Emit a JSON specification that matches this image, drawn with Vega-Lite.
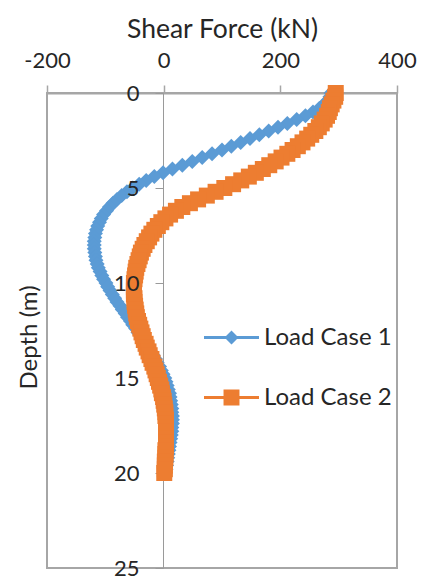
{
  "$schema": "https://vega.github.io/schema/vega-lite/v6.json",
  "width": 350,
  "height": 475,
  "autosize": {"type": "none"},
  "padding": {"left": 47, "top": 93, "right": 33, "bottom": 13},
  "background": "white",
  "config": {
    "font": "Lato",
    "view": {"stroke": "#a6a6a6", "strokeWidth": 2},
    "axis": {"grid": false, "labelFlush": false, "labelOverlap": false, "titleFontWeight": "normal"}
  },
  "data": {
    "values": [
      {"series": "Load Case 1", "depth": 0, "force": 287},
      {"series": "Load Case 1", "depth": 0.2, "force": 285},
      {"series": "Load Case 1", "depth": 0.4, "force": 281},
      {"series": "Load Case 1", "depth": 0.6, "force": 275},
      {"series": "Load Case 1", "depth": 0.8, "force": 267},
      {"series": "Load Case 1", "depth": 1.0, "force": 256},
      {"series": "Load Case 1", "depth": 1.2, "force": 243},
      {"series": "Load Case 1", "depth": 1.4, "force": 228},
      {"series": "Load Case 1", "depth": 1.6, "force": 212},
      {"series": "Load Case 1", "depth": 1.8, "force": 196},
      {"series": "Load Case 1", "depth": 2.0, "force": 180},
      {"series": "Load Case 1", "depth": 2.2, "force": 164},
      {"series": "Load Case 1", "depth": 2.4, "force": 148},
      {"series": "Load Case 1", "depth": 2.6, "force": 132},
      {"series": "Load Case 1", "depth": 2.8, "force": 116},
      {"series": "Load Case 1", "depth": 3.0, "force": 100},
      {"series": "Load Case 1", "depth": 3.2, "force": 83},
      {"series": "Load Case 1", "depth": 3.4, "force": 66},
      {"series": "Load Case 1", "depth": 3.6, "force": 49},
      {"series": "Load Case 1", "depth": 3.8, "force": 32},
      {"series": "Load Case 1", "depth": 4.0, "force": 15},
      {"series": "Load Case 1", "depth": 4.2, "force": -1},
      {"series": "Load Case 1", "depth": 4.4, "force": -16},
      {"series": "Load Case 1", "depth": 4.6, "force": -30},
      {"series": "Load Case 1", "depth": 4.8, "force": -42},
      {"series": "Load Case 1", "depth": 5.0, "force": -53},
      {"series": "Load Case 1", "depth": 5.2, "force": -63},
      {"series": "Load Case 1", "depth": 5.4, "force": -72},
      {"series": "Load Case 1", "depth": 5.6, "force": -80},
      {"series": "Load Case 1", "depth": 5.8, "force": -87},
      {"series": "Load Case 1", "depth": 6.0, "force": -93},
      {"series": "Load Case 1", "depth": 6.2, "force": -98},
      {"series": "Load Case 1", "depth": 6.4, "force": -103},
      {"series": "Load Case 1", "depth": 6.6, "force": -107},
      {"series": "Load Case 1", "depth": 6.8, "force": -110},
      {"series": "Load Case 1", "depth": 7.0, "force": -113},
      {"series": "Load Case 1", "depth": 7.2, "force": -115},
      {"series": "Load Case 1", "depth": 7.4, "force": -117},
      {"series": "Load Case 1", "depth": 7.6, "force": -118},
      {"series": "Load Case 1", "depth": 7.8, "force": -119},
      {"series": "Load Case 1", "depth": 8.0, "force": -119},
      {"series": "Load Case 1", "depth": 8.2, "force": -119},
      {"series": "Load Case 1", "depth": 8.4, "force": -118},
      {"series": "Load Case 1", "depth": 8.6, "force": -117},
      {"series": "Load Case 1", "depth": 8.8, "force": -116},
      {"series": "Load Case 1", "depth": 9.0, "force": -114},
      {"series": "Load Case 1", "depth": 9.2, "force": -112},
      {"series": "Load Case 1", "depth": 9.4, "force": -109},
      {"series": "Load Case 1", "depth": 9.6, "force": -106},
      {"series": "Load Case 1", "depth": 9.8, "force": -103},
      {"series": "Load Case 1", "depth": 10.0, "force": -99},
      {"series": "Load Case 1", "depth": 10.2, "force": -96},
      {"series": "Load Case 1", "depth": 10.4, "force": -92},
      {"series": "Load Case 1", "depth": 10.6, "force": -88},
      {"series": "Load Case 1", "depth": 10.8, "force": -84},
      {"series": "Load Case 1", "depth": 11.0, "force": -80},
      {"series": "Load Case 1", "depth": 11.2, "force": -75},
      {"series": "Load Case 1", "depth": 11.4, "force": -71},
      {"series": "Load Case 1", "depth": 11.6, "force": -66},
      {"series": "Load Case 1", "depth": 11.8, "force": -62},
      {"series": "Load Case 1", "depth": 12.0, "force": -57},
      {"series": "Load Case 1", "depth": 12.2, "force": -53},
      {"series": "Load Case 1", "depth": 12.4, "force": -48},
      {"series": "Load Case 1", "depth": 12.6, "force": -44},
      {"series": "Load Case 1", "depth": 12.8, "force": -39},
      {"series": "Load Case 1", "depth": 13.0, "force": -35},
      {"series": "Load Case 1", "depth": 13.2, "force": -30},
      {"series": "Load Case 1", "depth": 13.4, "force": -26},
      {"series": "Load Case 1", "depth": 13.6, "force": -22},
      {"series": "Load Case 1", "depth": 13.8, "force": -18},
      {"series": "Load Case 1", "depth": 14.0, "force": -14},
      {"series": "Load Case 1", "depth": 14.2, "force": -11},
      {"series": "Load Case 1", "depth": 14.4, "force": -7},
      {"series": "Load Case 1", "depth": 14.6, "force": -4},
      {"series": "Load Case 1", "depth": 14.8, "force": -1},
      {"series": "Load Case 1", "depth": 15.0, "force": 2},
      {"series": "Load Case 1", "depth": 15.2, "force": 4},
      {"series": "Load Case 1", "depth": 15.4, "force": 6},
      {"series": "Load Case 1", "depth": 15.6, "force": 8},
      {"series": "Load Case 1", "depth": 15.8, "force": 10},
      {"series": "Load Case 1", "depth": 16.0, "force": 11},
      {"series": "Load Case 1", "depth": 16.2, "force": 12},
      {"series": "Load Case 1", "depth": 16.4, "force": 13},
      {"series": "Load Case 1", "depth": 16.6, "force": 14},
      {"series": "Load Case 1", "depth": 16.8, "force": 14},
      {"series": "Load Case 1", "depth": 17.0, "force": 15},
      {"series": "Load Case 1", "depth": 17.2, "force": 15},
      {"series": "Load Case 1", "depth": 17.4, "force": 15},
      {"series": "Load Case 1", "depth": 17.6, "force": 14},
      {"series": "Load Case 1", "depth": 17.8, "force": 14},
      {"series": "Load Case 1", "depth": 18.0, "force": 13},
      {"series": "Load Case 1", "depth": 18.2, "force": 12},
      {"series": "Load Case 1", "depth": 18.4, "force": 11},
      {"series": "Load Case 1", "depth": 18.6, "force": 10},
      {"series": "Load Case 1", "depth": 18.8, "force": 9},
      {"series": "Load Case 1", "depth": 19.0, "force": 8},
      {"series": "Load Case 1", "depth": 19.2, "force": 7},
      {"series": "Load Case 1", "depth": 19.4, "force": 6},
      {"series": "Load Case 1", "depth": 19.6, "force": 5},
      {"series": "Load Case 1", "depth": 19.8, "force": 4},
      {"series": "Load Case 1", "depth": 20.0, "force": 3},
      {"series": "Load Case 2", "depth": 0, "force": 295},
      {"series": "Load Case 2", "depth": 0.2, "force": 294},
      {"series": "Load Case 2", "depth": 0.4, "force": 291},
      {"series": "Load Case 2", "depth": 0.6, "force": 288},
      {"series": "Load Case 2", "depth": 0.8, "force": 285},
      {"series": "Load Case 2", "depth": 1.0, "force": 283},
      {"series": "Load Case 2", "depth": 1.2, "force": 280},
      {"series": "Load Case 2", "depth": 1.4, "force": 276},
      {"series": "Load Case 2", "depth": 1.6, "force": 271},
      {"series": "Load Case 2", "depth": 1.8, "force": 266},
      {"series": "Load Case 2", "depth": 2.0, "force": 260},
      {"series": "Load Case 2", "depth": 2.2, "force": 253},
      {"series": "Load Case 2", "depth": 2.4, "force": 246},
      {"series": "Load Case 2", "depth": 2.6, "force": 238},
      {"series": "Load Case 2", "depth": 2.8, "force": 230},
      {"series": "Load Case 2", "depth": 3.0, "force": 221},
      {"series": "Load Case 2", "depth": 3.2, "force": 212},
      {"series": "Load Case 2", "depth": 3.4, "force": 202},
      {"series": "Load Case 2", "depth": 3.6, "force": 192},
      {"series": "Load Case 2", "depth": 3.8, "force": 181},
      {"series": "Load Case 2", "depth": 4.0, "force": 170},
      {"series": "Load Case 2", "depth": 4.2, "force": 158},
      {"series": "Load Case 2", "depth": 4.4, "force": 146},
      {"series": "Load Case 2", "depth": 4.6, "force": 133},
      {"series": "Load Case 2", "depth": 4.8, "force": 119},
      {"series": "Load Case 2", "depth": 5.0, "force": 104},
      {"series": "Load Case 2", "depth": 5.2, "force": 89},
      {"series": "Load Case 2", "depth": 5.4, "force": 74},
      {"series": "Load Case 2", "depth": 5.6, "force": 59},
      {"series": "Load Case 2", "depth": 5.8, "force": 45},
      {"series": "Load Case 2", "depth": 6.0, "force": 32},
      {"series": "Load Case 2", "depth": 6.2, "force": 21},
      {"series": "Load Case 2", "depth": 6.4, "force": 11},
      {"series": "Load Case 2", "depth": 6.6, "force": 3},
      {"series": "Load Case 2", "depth": 6.8, "force": -4},
      {"series": "Load Case 2", "depth": 7.0, "force": -10},
      {"series": "Load Case 2", "depth": 7.2, "force": -16},
      {"series": "Load Case 2", "depth": 7.4, "force": -21},
      {"series": "Load Case 2", "depth": 7.6, "force": -25},
      {"series": "Load Case 2", "depth": 7.8, "force": -29},
      {"series": "Load Case 2", "depth": 8.0, "force": -33},
      {"series": "Load Case 2", "depth": 8.2, "force": -36},
      {"series": "Load Case 2", "depth": 8.4, "force": -39},
      {"series": "Load Case 2", "depth": 8.6, "force": -41},
      {"series": "Load Case 2", "depth": 8.8, "force": -43},
      {"series": "Load Case 2", "depth": 9.0, "force": -45},
      {"series": "Load Case 2", "depth": 9.2, "force": -47},
      {"series": "Load Case 2", "depth": 9.4, "force": -48},
      {"series": "Load Case 2", "depth": 9.6, "force": -49},
      {"series": "Load Case 2", "depth": 9.8, "force": -50},
      {"series": "Load Case 2", "depth": 10.0, "force": -51},
      {"series": "Load Case 2", "depth": 10.2, "force": -51},
      {"series": "Load Case 2", "depth": 10.4, "force": -51},
      {"series": "Load Case 2", "depth": 10.6, "force": -51},
      {"series": "Load Case 2", "depth": 10.8, "force": -50},
      {"series": "Load Case 2", "depth": 11.0, "force": -50},
      {"series": "Load Case 2", "depth": 11.2, "force": -49},
      {"series": "Load Case 2", "depth": 11.4, "force": -48},
      {"series": "Load Case 2", "depth": 11.6, "force": -47},
      {"series": "Load Case 2", "depth": 11.8, "force": -46},
      {"series": "Load Case 2", "depth": 12.0, "force": -44},
      {"series": "Load Case 2", "depth": 12.2, "force": -42},
      {"series": "Load Case 2", "depth": 12.4, "force": -40},
      {"series": "Load Case 2", "depth": 12.6, "force": -38},
      {"series": "Load Case 2", "depth": 12.8, "force": -36},
      {"series": "Load Case 2", "depth": 13.0, "force": -34},
      {"series": "Load Case 2", "depth": 13.2, "force": -31},
      {"series": "Load Case 2", "depth": 13.4, "force": -29},
      {"series": "Load Case 2", "depth": 13.6, "force": -26},
      {"series": "Load Case 2", "depth": 13.8, "force": -24},
      {"series": "Load Case 2", "depth": 14.0, "force": -21},
      {"series": "Load Case 2", "depth": 14.2, "force": -19},
      {"series": "Load Case 2", "depth": 14.4, "force": -16},
      {"series": "Load Case 2", "depth": 14.6, "force": -14},
      {"series": "Load Case 2", "depth": 14.8, "force": -12},
      {"series": "Load Case 2", "depth": 15.0, "force": -10},
      {"series": "Load Case 2", "depth": 15.2, "force": -8},
      {"series": "Load Case 2", "depth": 15.4, "force": -6},
      {"series": "Load Case 2", "depth": 15.6, "force": -4},
      {"series": "Load Case 2", "depth": 15.8, "force": -3},
      {"series": "Load Case 2", "depth": 16.0, "force": -1},
      {"series": "Load Case 2", "depth": 16.2, "force": 0},
      {"series": "Load Case 2", "depth": 16.4, "force": 1},
      {"series": "Load Case 2", "depth": 16.6, "force": 2},
      {"series": "Load Case 2", "depth": 16.8, "force": 3},
      {"series": "Load Case 2", "depth": 17.0, "force": 3},
      {"series": "Load Case 2", "depth": 17.2, "force": 4},
      {"series": "Load Case 2", "depth": 17.4, "force": 4},
      {"series": "Load Case 2", "depth": 17.6, "force": 4},
      {"series": "Load Case 2", "depth": 17.8, "force": 4},
      {"series": "Load Case 2", "depth": 18.0, "force": 4},
      {"series": "Load Case 2", "depth": 18.2, "force": 4},
      {"series": "Load Case 2", "depth": 18.4, "force": 4},
      {"series": "Load Case 2", "depth": 18.6, "force": 4},
      {"series": "Load Case 2", "depth": 18.8, "force": 3},
      {"series": "Load Case 2", "depth": 19.0, "force": 3},
      {"series": "Load Case 2", "depth": 19.2, "force": 3},
      {"series": "Load Case 2", "depth": 19.4, "force": 2},
      {"series": "Load Case 2", "depth": 19.6, "force": 2},
      {"series": "Load Case 2", "depth": 19.8, "force": 2},
      {"series": "Load Case 2", "depth": 20.0, "force": 1}
    ]
  },
  "layer": [
    {
      "transform": [{"filter": "datum.series === 'Load Case 1'"}],
      "mark": {"type": "point", "shape": "diamond", "size": 225, "filled": true, "opacity": 1, "strokeWidth": 0},
      "encoding": {
        "x": {
          "field": "force",
          "type": "quantitative",
          "scale": {"domain": [-200, 400], "nice": false, "zero": false},
          "axis": {
            "orient": "top",
            "values": [-200, 0, 200, 400],
            "labelExpr": "'' + datum.value",
            "title": "Shear Force (kN)",
            "titleFontSize": 26.5,
            "titleColor": "#262626",
            "titlePadding": 6,
            "labelFontSize": 22,
            "labelColor": "#262626",
            "labelPadding": 13,
            "domainColor": "#a6a6a6",
            "domainWidth": 2,
            "tickColor": "#a6a6a6",
            "tickWidth": 1.5,
            "tickSize": 8
          }
        },
        "y": {
          "field": "depth",
          "type": "quantitative",
          "scale": {"domain": [0, 25], "reverse": true, "nice": false, "zero": false},
          "axis": {
            "orient": "left",
            "offset": -116,
            "values": [0, 5, 10, 15, 20, 25],
            "labels": false,
            "zindex": 0,
            "title": "Depth (m)",
            "titleFontSize": 24,
            "titleColor": "#262626",
            "titleAngle": -90,
            "titleX": -134,
            "titleY": 244,
            "titleAlign": "center",
            "titleBaseline": "middle",
            "domainColor": "#9a9a9a",
            "domainWidth": 1,
            "tickColor": "#9a9a9a",
            "tickWidth": 1,
            "tickSize": 8
          }
        },
        "color": {
          "field": "series",
          "type": "nominal",
          "scale": {"domain": ["Load Case 1", "Load Case 2"], "range": ["#5b9bd5", "#ed7d31"]},
          "legend": {
            "orient": "none",
            "legendX": 157,
            "legendY": 217,
            "title": null,
            "padding": 0,
            "symbolSize": 3025,
            "symbolStrokeWidth": 0,
            "symbolOpacity": 1,
            "rowPadding": 20,
            "labelOffset": 5,
            "labelFontSize": 24,
            "labelColor": "#262626",
            "encode": {
              "symbols": {
                "update": {
                  "shape": {"signal": "datum.value === 'Load Case 1' ? 'M-1,-0.055L-0.2,-0.055L0,-0.255L0.2,-0.055L1,-0.055L1,0.055L0.2,0.055L0,0.255L-0.2,0.055L-1,0.055Z' : 'M-1,-0.055L-0.29,-0.055L-0.29,-0.29L0.29,-0.29L0.29,-0.055L1,-0.055L1,0.055L0.29,0.055L0.29,0.29L-0.29,0.29L-0.29,0.055L-1,0.055Z'"},
                  "size": {"value": 3025}
                }
              }
            }
          }
        }
      }
    },
    {
      "transform": [{"filter": "datum.series === 'Load Case 2'"}],
      "mark": {"type": "point", "shape": "square", "size": 256, "filled": true, "opacity": 1, "strokeWidth": 0},
      "encoding": {
        "x": {"field": "force", "type": "quantitative"},
        "y": {
          "field": "depth",
          "type": "quantitative",
          "axis": {
            "orient": "left",
            "offset": -116,
            "values": [0, 5, 10, 15, 20, 25],
            "zindex": 1,
            "domain": false,
            "tickColor": "transparent",
            "tickSize": 8,
            "title": null,
            "labelFontSize": 22,
            "labelColor": "#262626",
            "labelPadding": 16
          }
        },
        "color": {"field": "series", "type": "nominal"}
      }
    }
  ],
  "resolve": {"axis": {"y": "independent"}}
}
